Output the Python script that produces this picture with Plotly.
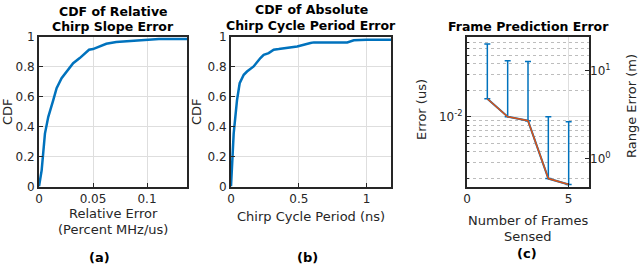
import math
import plotly.graph_objects as go

# Panel (a): CDF of relative chirp slope error
a_x = [0, 0.00245, 0.0055, 0.0086, 0.0132, 0.0163, 0.0209, 0.0255, 0.0316, 0.0377,
       0.0463, 0.05, 0.0561, 0.0623, 0.0715, 0.0807, 0.099, 0.111, 0.137]
a_y = [0.0, 0.108, 0.354, 0.466, 0.578, 0.657, 0.724, 0.769, 0.825, 0.859,
       0.915, 0.919, 0.937, 0.955, 0.966, 0.971, 0.982, 0.987, 0.987]

# Panel (b): CDF of absolute chirp cycle period error
b_x = [0, 0.0074, 0.0197, 0.032, 0.0443, 0.064, 0.094, 0.118, 0.167, 0.217, 0.241,
       0.278, 0.303, 0.315, 0.352, 0.488, 0.586, 0.611, 0.857, 0.906, 1.0, 1.18]
b_y = [0.0, 0.13, 0.354, 0.466, 0.578, 0.691, 0.747, 0.769, 0.803, 0.859, 0.881,
       0.892, 0.904, 0.915, 0.919, 0.937, 0.960, 0.964, 0.964, 0.978, 0.982, 0.982]

# Panel (c): frame prediction error
c_frames = [1, 2, 3, 4, 5]
c_err = [0.016, 0.010, 0.009, 0.00197, 0.00169]
c_upper = [0.0676, 0.0433, 0.0425, 0.010, 0.00878]
c_range_factor = 300.0  # m per us
c_left_range = [0.00160, 0.0810]

BLUE = "#0072BD"
ORANGE = "#D95319"
TXT = "#262626"
FONT = "DejaVu Sans"

fig = go.Figure()

fig.add_trace(go.Scatter(x=a_x, y=a_y, mode="lines", line=dict(color=BLUE, width=2.5),
                         xaxis="x", yaxis="y", showlegend=False))
fig.add_trace(go.Scatter(x=b_x, y=b_y, mode="lines", line=dict(color=BLUE, width=2.5),
                         xaxis="x2", yaxis="y2", showlegend=False))

plus = [u - m for u, m in zip(c_upper, c_err)]
fig.add_trace(go.Scatter(x=c_frames, y=c_err, mode="lines",
                         line=dict(color=BLUE, width=2),
                         error_y=dict(type="data", array=plus, arrayminus=[0] * 5,
                                      symmetric=False, color=BLUE, thickness=1.5, width=3),
                         xaxis="x3", yaxis="y3", showlegend=False))
fig.add_trace(go.Scatter(x=c_frames, y=c_err, mode="lines",
                         line=dict(color=ORANGE, width=1.5),
                         xaxis="x3", yaxis="y3", showlegend=False))
fig.add_trace(go.Scatter(x=[c_frames[0]], y=[c_err[0] * c_range_factor], mode="markers",
                         marker=dict(opacity=0), xaxis="x3", yaxis="y4",
                         showlegend=False, hoverinfo="skip"))

ytop, ybot = 1 - 37 / 272, 1 - 186.5 / 272
common = dict(showline=True, mirror=True, linecolor=TXT, linewidth=2, ticks="inside",
              ticklen=4, tickcolor=TXT, tickfont=dict(family=FONT, size=12, color=TXT),
              gridcolor="#dedede", gridwidth=1, zeroline=False, automargin=False)

minor_vals = [k * 10 ** e for e in (-3, -2) for k in range(1, 10) if not (k == 1 and e == -2)]

fig.update_layout(
    template="none",
    width=642, height=272, margin=dict(l=0, r=0, t=0, b=0, pad=0),
    paper_bgcolor="white", plot_bgcolor="white",
    xaxis=dict(domain=[39 / 642, 187 / 642], range=[0, 0.137], tickvals=[0, 0.05, 0.1],
               ticktext=["0", "0.05", "0.1"], showgrid=True, anchor="y", **common),
    yaxis=dict(domain=[ybot, ytop], range=[0, 1], tickvals=[0, 0.2, 0.4, 0.6, 0.8, 1],
               ticktext=["0", "0.2", "0.4", "0.6", "0.8", "1"], showgrid=True, anchor="x", **common),
    xaxis2=dict(domain=[231 / 642, 391 / 642], range=[0, 1.18], tickvals=[0, 0.5, 1],
                ticktext=["0", "0.5", "1"], showgrid=True, anchor="y2", **common),
    yaxis2=dict(domain=[ybot, ytop], range=[0, 1], tickvals=[0, 0.2, 0.4, 0.6, 0.8, 1],
                ticktext=["0", "0.2", "0.4", "0.6", "0.8", "1"], showgrid=True, anchor="x2", **common),
    xaxis3=dict(domain=[467 / 642, 589 / 642], range=[0, 6], tickvals=[0, 5],
                ticktext=["0", "5"], showgrid=True, anchor="y3", **common),
    yaxis3=dict(domain=[ybot, ytop], type="log",
                range=[math.log10(v) for v in c_left_range],
                tickvals=[0.01], ticktext=["10<sup>-2</sup>"], showgrid=True, anchor="x3",
                minor=dict(tickvals=minor_vals, showgrid=True, griddash="dot",
                           gridcolor="#bdbdbd", gridwidth=1, ticks="inside", ticklen=2,
                           tickcolor=TXT),
                **common),
    yaxis4=dict(domain=[ybot, ytop], type="log", overlaying="y3", side="right", anchor="x3",
                range=[math.log10(v * c_range_factor) for v in c_left_range],
                tickvals=[1, 10], ticktext=["10<sup>0</sup>", "10<sup>1</sup>"],
                showgrid=False, showline=False, ticks="inside", ticklen=4, tickcolor=TXT,
                tickfont=dict(family=FONT, size=12, color=TXT), zeroline=False,
                automargin=False),
)

ann = []
def t(x, y, text, size=13, bold=False, color=TXT, angle=0):
    ann.append(dict(x=x / 642, y=1 - y / 272, xref="paper", yref="paper", text=text,
                    showarrow=False, textangle=angle, xanchor="center", yanchor="middle",
                    font=dict(family=FONT, size=size, color=color,
                              weight="bold" if bold else "normal")))

t(113, 12, "CDF of Relative", 12.5, True, "black")
t(113, 27, "Chirp Slope Error", 12.5, True, "black")
t(311, 10, "CDF of Absolute", 12.5, True, "black")
t(311, 25, "Chirp Cycle Period Error", 12.5, True, "black")
t(528, 27, "Frame Prediction Error", 12.5, True, "black")

t(113, 213, "Relative Error")
t(113, 229, "(Percent MHz/us)")
t(311, 216, "Chirp Cycle Period (ns)")
t(528, 220, "Number of Frames")
t(528, 236, "Sensed")

t(7, 112, "CDF", angle=-90)
t(196, 112, "CDF", angle=-90)
t(421, 110, "Error (us)", angle=-90)
t(632, 106, "Range Error (m)", angle=-90)

t(99, 257, "(a)", 13, True, "black")
t(307, 257, "(b)", 13, True, "black")
t(527, 253, "(c)", 13, True, "black")

fig.update_layout(annotations=ann)
fig.write_html("out.html", config={"displayModeBar": False},
               post_script="document.body.style.margin='0';document.body.style.overflow='hidden';")
